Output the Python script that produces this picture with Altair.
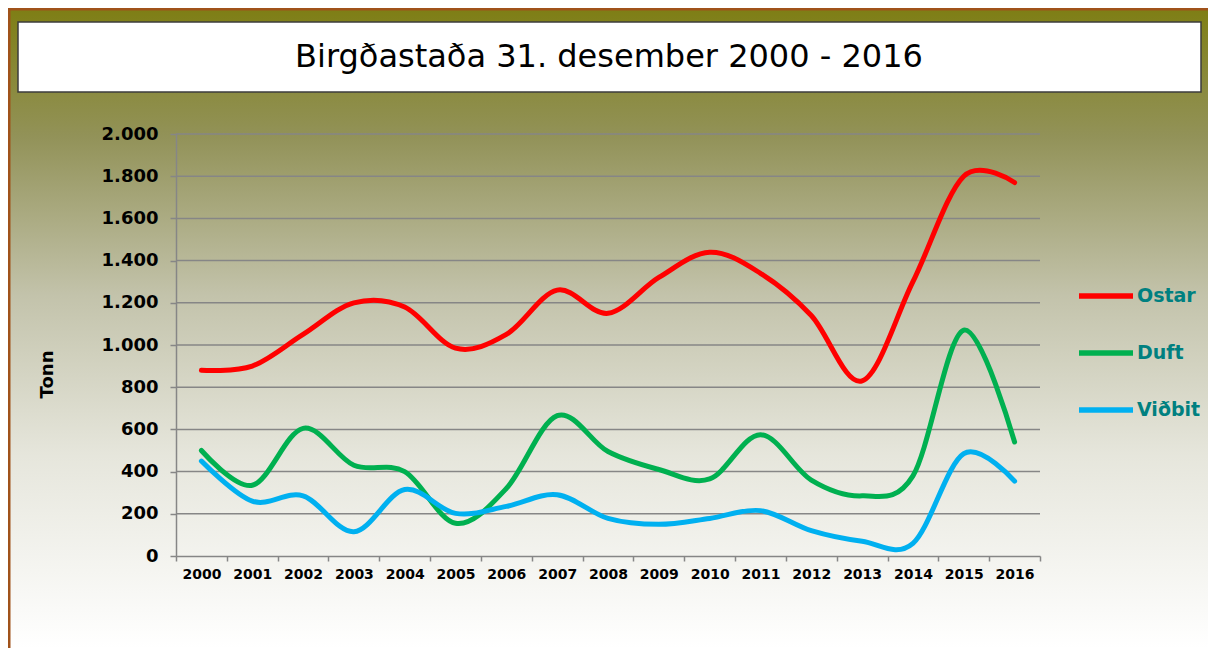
import altair as alt
import pandas as pd

years = [str(y) for y in range(2000, 2017)]
ostar = [880, 900, 1050, 1200, 1180, 985, 1050, 1260, 1150, 1320, 1440, 1340, 1140, 830, 1300, 1800, 1770]
duft = [500, 335, 605, 430, 400, 155, 320, 665, 495, 410, 365, 575, 360, 285, 380, 1070, 540]
vidbit = [450, 260, 285, 115, 315, 202, 235, 290, 178, 150, 178, 215, 120, 70, 60, 485, 355]
series = ["Ostar", "Duft", "Viðbit"]
colors = ["#FF0000", "#00B050", "#00B0F0"]
y_ticks = list(range(0, 2001, 200))
grid_vals = list(range(200, 2001, 200))
title_text = "Birgðastaða 31. desember 2000 - 2016"

rows = []
for name, vals in zip(series, [ostar, duft, vidbit]):
    for y, v in zip(years, vals):
        rows.append({"year": y, "tonn": v, "series": name})
df = pd.DataFrame(rows)
grid_df = pd.DataFrame({"tonn": grid_vals})

W, H = 864, 422
FONT = "DejaVu Sans"
one = alt.Data(values=[{}])

bg = alt.Chart(one).mark_rect(
    fill=alt.LinearGradient(
        gradient="linear",
        stops=[
            alt.GradientStop(offset=0, color="#7e7e14"),
            alt.GradientStop(offset=0.2, color="#929258"),
            alt.GradientStop(offset=0.45, color="#c3c3ab"),
            alt.GradientStop(offset=0.7, color="#e6e6dc"),
            alt.GradientStop(offset=1, color="#ffffff"),
        ],
        x1=0, x2=0, y1=0, y2=1,
    )
).encode(x=alt.value(-168), x2=alt.value(1032), y=alt.value(-126), y2=alt.value(514))

border_left = alt.Chart(one).mark_rule(color="#A0521A", strokeWidth=3).encode(
    x=alt.value(-167), y=alt.value(-126), y2=alt.value(514))
border_top = alt.Chart(one).mark_rule(color="#A0521A", strokeWidth=3).encode(
    y=alt.value(-125), x=alt.value(-168), x2=alt.value(1032))

title_box = alt.Chart(one).mark_rect(fill="white", stroke="#3c3c3c", strokeWidth=1.5).encode(
    x=alt.value(-158), x2=alt.value(1025), y=alt.value(-112), y2=alt.value(-42))

title = alt.Chart(one).mark_text(
    text=title_text, font=FONT, fontSize=32, color="black", align="center", baseline="middle"
).encode(x=alt.value(433), y=alt.value(-77))

y_axis = alt.Axis(values=y_ticks, grid=False, tickSize=6, labelPadding=12,
                  labelExpr="replace(format(datum.value, ',d'), ',', '.')",
                  labelFont=FONT, labelFontSize=18, labelFontWeight="bold",
                  labelColor="black", domainColor="#868686", tickColor="#868686",
                  domainWidth=1.5, tickWidth=1.5,
                  titleFont=FONT, titleFontSize=18, titleFontWeight="bold",
                  titleColor="black", titleX=-129, titleY=240,
                  titleBaseline="middle", titleAlign="center", zindex=1)
y_scale = alt.Scale(domain=[0, 2000], nice=False)

grid = alt.Chart(grid_df).mark_rule(color="#868686", strokeWidth=1.5).encode(
    y=alt.Y("tonn:Q", title="Tonn", scale=y_scale, axis=y_axis)
)

lines = alt.Chart(df).mark_line(
    interpolate="cardinal", strokeWidth=5, strokeCap="round"
).encode(
    x=alt.X("year:O", bandPosition=0.5,
            scale=alt.Scale(type="band", paddingInner=0, paddingOuter=0),
            axis=alt.Axis(title=None, labelAngle=0, tickBand="extent", tickSize=5,
                          labelPadding=6, labelFont=FONT, labelFontSize=14,
                          labelFontWeight="bold", labelColor="black",
                          domainColor="#868686", tickColor="#868686",
                          domainWidth=1.5, tickWidth=1.5, zindex=1)),
    y=alt.Y("tonn:Q", title="Tonn", scale=y_scale, axis=y_axis),
    color=alt.Color("series:N", sort=series,
                    scale=alt.Scale(domain=series, range=colors),
                    legend=alt.Legend(title=None, orient="none", legendX=900, legendY=132,
                                      symbolType="stroke", symbolSize=2916,
                                      symbolStrokeWidth=5.5, labelFont=FONT,
                                      labelFontSize=19, labelFontWeight="bold",
                                      labelColor="#008080", labelOffset=1, rowPadding=16)),
)

chart = alt.layer(bg, border_left, border_top, title_box, title, grid, lines).properties(
    width=W, height=H,
    autosize=alt.AutoSizeParams(type="none"),
    padding={"left": 168, "top": 126, "right": 168, "bottom": 92},
).configure_view(stroke=None)

chart.save("out.html", embed_options={"renderer": "svg", "actions": False})
